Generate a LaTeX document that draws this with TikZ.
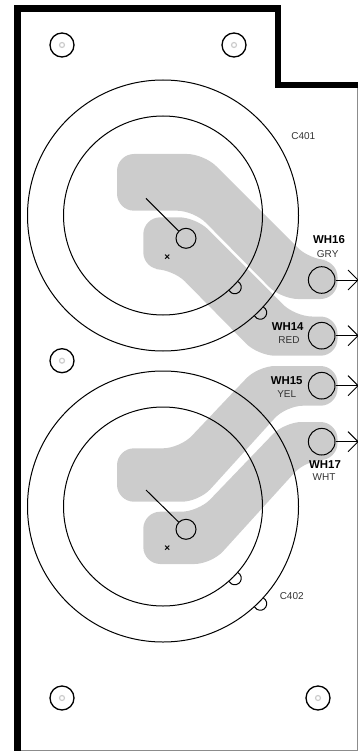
\documentclass[tikz,border=0pt]{standalone}
\usepackage{fontspec}
\setmainfont{Liberation Sans}
\definecolor{padgray}{gray}{0.80}
\tikzset{
  ring/.style={draw,circle,inner sep=0pt,line width=1pt},
  pin/.style={ring,minimum size=20pt},
  pad/.style={ring,minimum size=26.6pt},
  hole/.style={ring,line width=1.3pt,minimum size=24pt},
  holecore/.style={draw=padgray,circle,inner sep=0pt,line width=1.2pt,minimum size=5pt},
  wire/.style={line width=1pt},
  wirename/.style={inner sep=0pt,font=\fontsize{11.4}{12}\selectfont\bfseries},
  colorname/.style={inner sep=0pt,font=\fontsize{10}{12}\selectfont,text=black!80},
  cross/.style={inner sep=0pt,font=\fontsize{10}{10}\selectfont\bfseries},
}
\begin{document}
\begin{tikzpicture}[x=1pt,y=-1pt]
  \useasboundingbox (0,0) rectangle (358,751);
  % board outline
  \draw [line width=0.9pt,black!45] (357.5,85) -- (357.5,750.5) -- (17,750.5);
  \draw [line width=6.5pt] (17.5,751) -- (17.5,8.7) -- (278,8.7) -- (278,85) -- (358,85);
  % copper
  \fill [padgray,rounded corners=17pt] (117,154) -- (204,154) -- (310,260) -- (337.5,260) -- (337.5,299) -- (281,299) -- (194,210.7) -- (117,210.7) -- cycle;
  \fill [padgray,rounded corners=17pt] (143.3,217.3) -- (196,217.3) -- (295,316.5) -- (337.5,316.5) -- (337.5,355.7) -- (258,355.7) -- (173,269.3) -- (143.3,269.3) -- cycle;
  \fill [padgray,rounded corners=17pt] (117,448.3) -- (180,448.3) -- (258,366) -- (337.5,366) -- (337.5,405.7) -- (286,405.7) -- (199,501.7) -- (117,501.7) -- cycle;
  \fill [padgray,rounded corners=17pt] (143.3,511.7) -- (198.4,511.7) -- (284.6,422) -- (337.5,422) -- (337.5,460) -- (306,460) -- (211.5,564) -- (143.3,564) -- cycle;
  % capacitors
  \node [ring,minimum size=271pt] (c401outer) at (163,215.5) {};
  \node [ring,minimum size=199pt] (c401inner) at (163,215.5) {};
  \node [ring,minimum size=271pt] (c402outer) at (163,506.5) {};
  \node [ring,minimum size=199pt] (c402inner) at (163,506.5) {};
  \foreach \bump in {c401inner.-45,c401outer.-45,c402inner.-45,c402outer.-45}
    \draw [line width=1pt] ([shift={(45:1.5)},shift={(-60:6.5)}]\bump) arc [start angle=-60,end angle=150,radius=6.5];
  \node [pin] (pinA) at (186,238.3) {};
  \node [pin] (pinB) at (186,529.3) {};
  \coordinate (leadA) at (146,198.3);
  \coordinate (leadB) at (146,490);
  \draw [line width=1pt] (leadA) -- (pinA);
  \draw [line width=1pt] (leadB) -- (pinB);
  \node [cross] (crossA) at (167.3,257.3) {×};
  \node [cross] (crossB) at (167.3,548.7) {×};
  \node (c401) [inner sep=0pt,font=\fontsize{10}{12}\selectfont,text=black!80] at (303.3,136) {C401};
  \node (c402) [inner sep=0pt,font=\fontsize{10}{12}\selectfont,text=black!80] at (291.7,596.3) {C402};
  % mounting holes
  \foreach \name/\px/\py in {holeA/62/45,holeB/234/45,holeC/62/360.7,holeD/62/698,holeE/318/698}{
    \node [hole] (\name) at (\px,\py) {};
    \node [holecore] (\name core) at (\px,\py) {};
  }
  % wire pads
  \foreach \name/\py in {wh16/280,wh14/335.7,wh15/385.7,wh17/441.7}{
    \node [pad] (\name) at (321.7,\py) {};
    \coordinate (\name end) at (358,\py);
    \draw [wire] (\name) -- (\name end);
    \draw [wire] (\name end) ++(-10,-10) -- (\name end) -- ++(-10,10);
  }
  \node [wirename] (wh16name) at (329,240) {WH16};
  \node [colorname] (wh16color) at (327.7,254.3) {GRY};
  \node [wirename] (wh14name) at (287.7,326.7) {WH14};
  \node [colorname] (wh14color) at (289,340.3) {RED};
  \node [wirename] (wh15name) at (286.7,381) {WH15};
  \node [colorname] (wh15color) at (286.7,394.3) {YEL};
  \node [wirename] (wh17name) at (325,465) {WH17};
  \node [colorname] (wh17color) at (324,477.3) {WHT};
\end{tikzpicture}
\end{document}
